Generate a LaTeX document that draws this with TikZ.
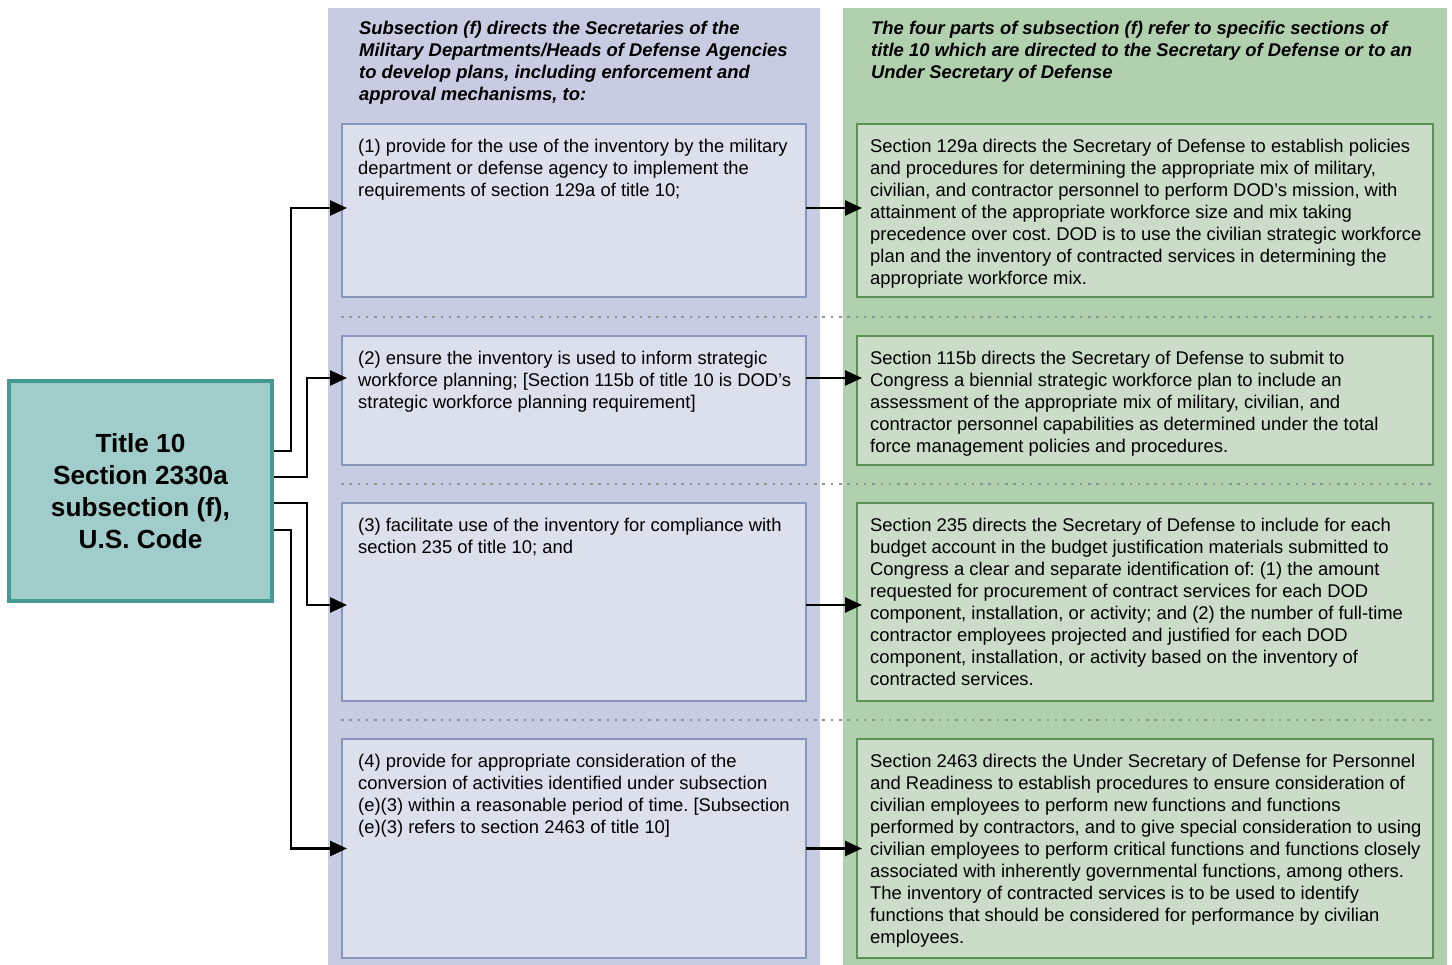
\documentclass[tikz,border=0pt]{standalone}
\usepackage{fontspec}
\setmainfont{Liberation Sans}
\usetikzlibrary{arrows.meta}
\definecolor{bluebg}{HTML}{C8CCE3}
\definecolor{bluebox}{HTML}{DCDFEC}
\definecolor{blueline}{HTML}{8A95BE}
\definecolor{greenbg}{HTML}{B1D0AD}
\definecolor{greenbox}{HTML}{CBDCC8}
\definecolor{greenline}{HTML}{5A9253}
\definecolor{titlefill}{HTML}{A0CDC9}
\definecolor{titleline}{HTML}{459B92}
\definecolor{dotcol}{HTML}{8A9894}
\tikzset{
  bbox/.style={draw=blueline, fill=bluebox, line width=2.8pt, anchor=north west, inner sep=0pt, outer sep=0pt, minimum width=464pt},
  gbox/.style={draw=greenline, fill=greenbox, line width=2.8pt, anchor=north west, inner sep=0pt, outer sep=0pt, minimum width=576pt},
  txt/.style={anchor=north west, inner sep=0pt, align=left, font=\fontsize{18.4}{22}\selectfont},
  head/.style={txt, font=\fontsize{18.4}{22}\selectfont\bfseries\itshape},
  arr/.style={line width=2.6pt, -{Triangle[length=17pt,width=15pt]}, line join=miter},
  sep/.style={dotcol, line width=2.5pt, dash pattern=on 2.5pt off 5.8pt}
}
\begin{document}
\frenchspacing
\begin{tikzpicture}[x=1pt,y=-1pt]
\useasboundingbox (0,0) rectangle (1452,965);
% columns
\fill[bluebg] (328,8) rectangle (820,965);
\fill[greenbg] (843,8) rectangle (1447,965);
% separators
\draw[sep] (341,317) -- (1434,317);
\draw[sep] (341,484) -- (1434,484);
\draw[sep] (341,720) -- (1434,720);
% headers
\node[head] (hb) at (359,18.6) {\strut Subsection (f) directs the Secretaries of the\\Military Departments/Heads of Defense Agencies\\to develop plans, including enforcement and\\approval mechanisms, to:};
\node[head] (hg) at (871,18.6) {\strut The four parts of subsection (f) refer to specific sections of\\title 10 which are directed to the Secretary of Defense or to an\\Under Secretary of Defense};
% blue boxes
\node[bbox, minimum height=173pt] (b1) at (342,124) {};
\node[bbox, minimum height=129pt] (b2) at (342,336) {};
\node[bbox, minimum height=198pt] (b3) at (342,503) {};
\node[bbox, minimum height=219pt] (b4) at (342,739) {};
% green boxes
\node[gbox, minimum height=173pt] (g1) at (857,124) {};
\node[gbox, minimum height=129pt] (g2) at (857,336) {};
\node[gbox, minimum height=198pt] (g3) at (857,503) {};
\node[gbox, minimum height=219pt] (g4) at (857,739) {};
% blue texts
\node[txt] (tb1) at (358,136.6) {\strut(1) provide for the use of the inventory by the military\\department or defense agency to implement the\\requirements of section 129a of title 10;};
\node[txt] (tb2) at (358,348.6) {\strut(2) ensure the inventory is used to inform strategic\\workforce planning; [Section 115b of title 10 is DOD’s\\strategic workforce planning requirement]};
\node[txt] (tb3) at (358,515.6) {\strut(3) facilitate use of the inventory for compliance with\\section 235 of title 10; and};
\node[txt] (tb4) at (358,751.6) {\strut(4) provide for appropriate consideration of the\\conversion of activities identified under subsection\\(e)(3) within a reasonable period of time. [Subsection\\(e)(3) refers to section 2463 of title 10]};
% green texts
\node[txt] (tg1) at (870,136.6) {\strut Section 129a directs the Secretary of Defense to establish policies\\and procedures for determining the appropriate mix of military,\\civilian, and contractor personnel to perform DOD’s mission, with\\attainment of the appropriate workforce size and mix taking\\precedence over cost. DOD is to use the civilian strategic workforce\\plan and the inventory of contracted services in determining the\\appropriate workforce mix.};
\node[txt] (tg2) at (870,348.6) {\strut Section 115b directs the Secretary of Defense to submit to\\Congress a biennial strategic workforce plan to include an\\assessment of the appropriate mix of military, civilian, and\\contractor personnel capabilities as determined under the total\\force management policies and procedures.};
\node[txt] (tg3) at (870,515.6) {\strut Section 235 directs the Secretary of Defense to include for each\\budget account in the budget justification materials submitted to\\Congress a clear and separate identification of: (1) the amount\\requested for procurement of contract services for each DOD\\component, installation, or activity; and (2) the number of full-time\\contractor employees projected and justified for each DOD\\component, installation, or activity based on the inventory of\\contracted services.};
\node[txt] (tg4) at (870,751.6) {\strut Section 2463 directs the Under Secretary of Defense for Personnel\\and Readiness to establish procedures to ensure consideration of\\civilian employees to perform new functions and functions\\performed by contractors, and to give special consideration to using\\civilian employees to perform critical functions and functions closely\\associated with inherently governmental functions, among others.\\The inventory of contracted services is to be used to identify\\functions that should be considered for performance by civilian\\employees.};
% title box
\node[draw=titleline, fill=titlefill, line width=4pt, anchor=north west, minimum width=263pt, minimum height=220pt, inner sep=0pt, outer sep=0pt, align=center, font=\fontsize{26.2}{32}\selectfont\bfseries] (title) at (9,381) {Title 10\\Section 2330a\\subsection (f),\\U.S. Code};
% connectors from title
\coordinate (s1) at (274,451);
\coordinate (s2) at (274,477);
\coordinate (s3) at (274,503);
\coordinate (s4) at (274,530);
\draw[arr] (s1) -- (291,451) |- ([xshift=5pt,yshift=2.5pt]b1.west);
\draw[arr] (s2) -- (307,477) |- ([xshift=5pt,yshift=22.5pt]b2.west);
\draw[arr] (s3) -- (307,503) |- ([xshift=5pt,yshift=-3pt]b3.west);
\draw[arr] (s4) -- (291,530) |- ([xshift=5pt]b4.west);
% connectors blue to green
\draw[arr] ([yshift=2.5pt]b1.east) -- ([xshift=5pt,yshift=2.5pt]g1.west);
\draw[arr] ([yshift=22.5pt]b2.east) -- ([xshift=5pt,yshift=22.5pt]g2.west);
\draw[arr] ([yshift=-3pt]b3.east) -- ([xshift=5pt,yshift=-3pt]g3.west);
\draw[arr] (b4.east) -- ([xshift=5pt]g4.west);
\end{tikzpicture}
\end{document}
